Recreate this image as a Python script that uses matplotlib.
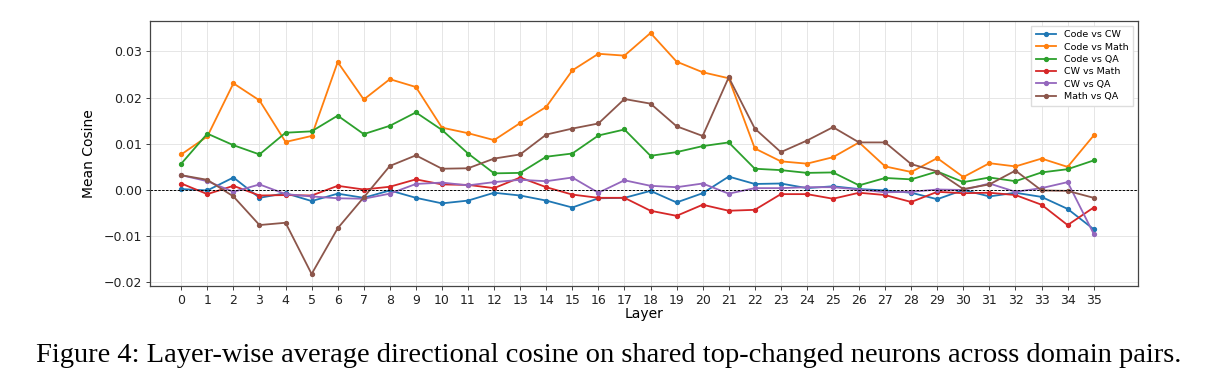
import numpy as np
import matplotlib
matplotlib.use("Agg")
import matplotlib.pyplot as plt

# ── Data ──────────────────────────────────────────────────────
layers = list(range(36))

code_vs_cw = [0.0002, -0.0001, 0.0027, -0.0017, -0.0007, -0.0024, -0.0008, -0.0017, -0.0001, -0.0017,
              -0.0029, -0.0023, -0.0006, -0.0012, -0.0023, -0.0038, -0.0018, -0.0017, -0.0002, -0.0027,
              -0.0007, 0.0029, 0.0013, 0.0014, 0.0004, 0.0008, 0.0002, -0.0001, -0.0006, -0.0020,
              0.0000, -0.0014, -0.0006, -0.0015, -0.0041, -0.0085]
code_vs_math = [0.0077, 0.0116, 0.0231, 0.0194, 0.0104, 0.0117, 0.0277, 0.0196, 0.0240, 0.0223,
                0.0135, 0.0123, 0.0108, 0.0145, 0.0180, 0.0259, 0.0295, 0.0291, 0.0340, 0.0278,
                0.0255, 0.0242, 0.0090, 0.0062, 0.0057, 0.0071, 0.0103, 0.0051, 0.0039, 0.0069,
                0.0028, 0.0058, 0.0051, 0.0068, 0.0050, 0.0118]
code_vs_qa = [0.0057, 0.0122, 0.0097, 0.0077, 0.0124, 0.0127, 0.0161, 0.0121, 0.0139, 0.0168,
              0.0130, 0.0079, 0.0036, 0.0037, 0.0072, 0.0079, 0.0118, 0.0131, 0.0074, 0.0082,
              0.0095, 0.0103, 0.0046, 0.0043, 0.0037, 0.0038, 0.0010, 0.0026, 0.0023, 0.0040,
              0.0017, 0.0027, 0.0019, 0.0038, 0.0045, 0.0064]
cw_vs_math = [0.0014, -0.0009, 0.0009, -0.0012, -0.0011, -0.0012, 0.0009, 0.0001, 0.0007, 0.0023,
              0.0012, 0.0011, 0.0004, 0.0027, 0.0006, -0.0010, -0.0017, -0.0017, -0.0045, -0.0056,
              -0.0032, -0.0045, -0.0043, -0.0009, -0.0009, -0.0019, -0.0006, -0.0011, -0.0026, -0.0004,
              -0.0007, -0.0006, -0.0011, -0.0032, -0.0076, -0.0038]
cw_vs_qa = [0.0032, 0.0019, -0.0004, 0.0012, -0.0009, -0.0014, -0.0018, -0.0019, -0.0008, 0.0013,
            0.0016, 0.0010, 0.0017, 0.0022, 0.0019, 0.0027, -0.0006, 0.0021, 0.0009, 0.0006,
            0.0014, -0.0008, 0.0004, 0.0004, 0.0006, 0.0006, 0.0001, -0.0005, -0.0004, 0.0001,
            0.0000, 0.0014, -0.0004, 0.0004, 0.0017, -0.0095]
math_vs_qa = [0.0032, 0.0022, -0.0014, -0.0076, -0.0071, -0.0182, -0.0083, -0.0016, 0.0052, 0.0075,
              0.0046, 0.0047, 0.0068, 0.0077, 0.0120, 0.0133, 0.0144, 0.0197, 0.0187, 0.0138,
              0.0117, 0.0244, 0.0133, 0.0082, 0.0107, 0.0136, 0.0103, 0.0103, 0.0056, 0.0040,
              0.0002, 0.0012, 0.0042, -0.0001, -0.0002, -0.0017]

series = {
    "Code vs CW": code_vs_cw,
    "Code vs Math": code_vs_math,
    "Code vs QA": code_vs_qa,
    "CW vs Math": cw_vs_math,
    "CW vs QA": cw_vs_qa,
    "Math vs QA": math_vs_qa,
}
colors = ["#1f77b4", "#ff7f0e", "#2ca02c", "#d62728", "#9467bd", "#8c564b"]

caption = "Figure 4: Layer-wise average directional cosine on shared top-changed neurons across domain pairs."

# ── Chart ─────────────────────────────────────────────────────
fig = plt.figure(figsize=(12.18, 3.91), dpi=100)
ax = fig.add_axes([150 / 1218, 1 - 286 / 391, (1138 - 150) / 1218, (286 - 21) / 391])

for (name, vals), c in zip(series.items(), colors):
    ax.plot(layers, vals, marker="o", markersize=2.8, linewidth=1.3, color=c, label=name)

ax.axhline(0, color="black", linestyle="--", linewidth=0.7, dashes=(2.5, 1.5))

ax.set_xlim(-1.2, 36.7)
ax.set_ylim(-0.0208, 0.0366)
ax.set_xticks(layers)
ax.set_yticks([-0.02, -0.01, 0.0, 0.01, 0.02, 0.03])
ax.set_yticklabels(["−0.02", "−0.01", "0.00", "0.01", "0.02", "0.03"])
ax.tick_params(labelsize=9, length=3, width=0.6, pad=2.5, colors="#222222")
ax.grid(True, color="#e6e6e6", linewidth=0.7)
ax.set_axisbelow(True)
for s in ax.spines.values():
    s.set_color("#444444")
    s.set_linewidth(0.9)

ax.set_xlabel("Layer", fontsize=10, labelpad=0)
ax.set_ylabel("Mean Cosine", fontsize=10, labelpad=6)

ax.legend(loc="upper right", fontsize=6.8, frameon=True, framealpha=1,
          edgecolor="#dddddd", fancybox=False, borderpad=0.5, labelspacing=0.35,
          handlelength=2.2)

fig.text(0.5, 1 - 356 / 391, caption, ha="center", va="center",
         fontsize=20.5, family="Liberation Serif")

plt.savefig("out.png", dpi=100)
